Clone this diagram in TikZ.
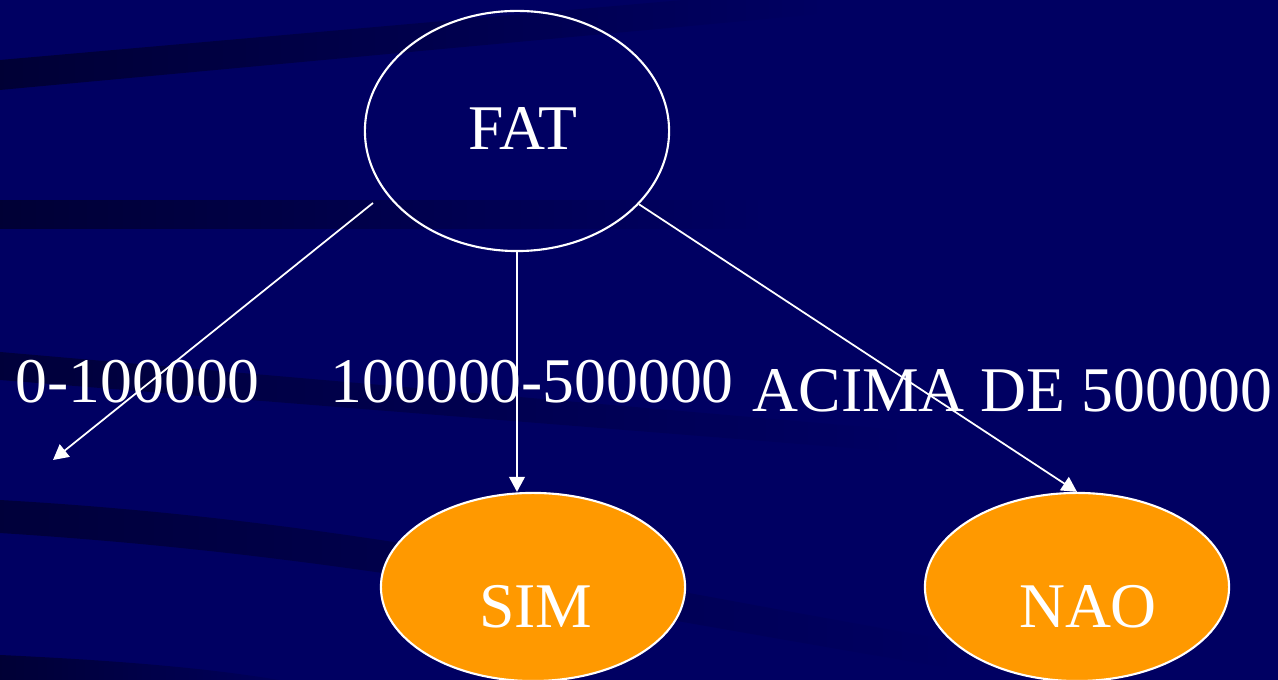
\documentclass[tikz,border=0pt]{standalone}
\usepackage{fontspec}
\setmainfont{Liberation Serif}
\usetikzlibrary{shapes.geometric,arrows.meta,fadings}
\definecolor{bgblue}{RGB}{0,0,98}
\definecolor{oran}{RGB}{255,153,0}
\tikzset{
  bubble/.style={ellipse, draw=white, line width=0.6pt, inner sep=0pt, minimum width=3.04cm},
  lbl/.style={text=white, font=\fontsize{18.1pt}{20pt}\selectfont, inner sep=0pt},
  arrowline/.style={draw=white, line width=0.5pt, -{Triangle[length=4.3pt,width=4.5pt]}},
  streak/.style={fill=black, opacity=0.45, path fading=east}
}
\begin{document}
\begin{tikzpicture}[x=0.01cm, y=-0.01cm]
\useasboundingbox (0,0) rectangle (1278,680);
\fill[bgblue] (0,0) rectangle (1278,680);
% background streaks
\fill[streak] (0,60) -- (820,-12) -- (820,14) -- (0,90) -- cycle;
\fill[streak] (0,200) -- (760,200) -- (760,229) -- (0,229) -- cycle;
\fill[streak, opacity=0.4] (0,352) -- (900,430) -- (900,452) -- (0,380) -- cycle;
\fill[streak, opacity=0.4] (0,500) .. controls (350,520) and (600,580) .. (950,640) -- (950,668) .. controls (600,610) and (350,555) .. (0,533) -- cycle;
\fill[streak] (0,655) .. controls (150,662) and (250,672) .. (330,690) -- (0,690) -- cycle;
% nodes
\node[bubble, minimum height=2.40cm] (fat) at (517,131) {};
\node[bubble, fill=oran, minimum height=1.88cm] (sim) at (533,587) {};
\node[bubble, fill=oran, minimum height=1.88cm] (nao) at (1077,587) {};
\node[lbl, anchor=base] (fatt) at (523,150) {FAT};
\node[lbl, anchor=base] (simt) at (536,628) {SIM};
\node[lbl, anchor=base] (naot) at (1088,628) {NAO};
% branch labels
\node[lbl, anchor=base west] (l1) at (15,403) {0-100000};
\node[lbl, anchor=base west] (l2) at (330,403) {100000-500000};
\node[lbl, anchor=base west] (l3) at (752,412) {ACIMA DE 500000};
% connectors
\coordinate (lstart) at (373,203);
\coordinate (lend) at (53,460);
\draw[arrowline] (lstart) -- (lend);
\draw[arrowline] (fat.south) -- (fat.south |- sim.north);
\draw[arrowline] (fat.-31.6) -- (nao.north);
\end{tikzpicture}
\end{document}
